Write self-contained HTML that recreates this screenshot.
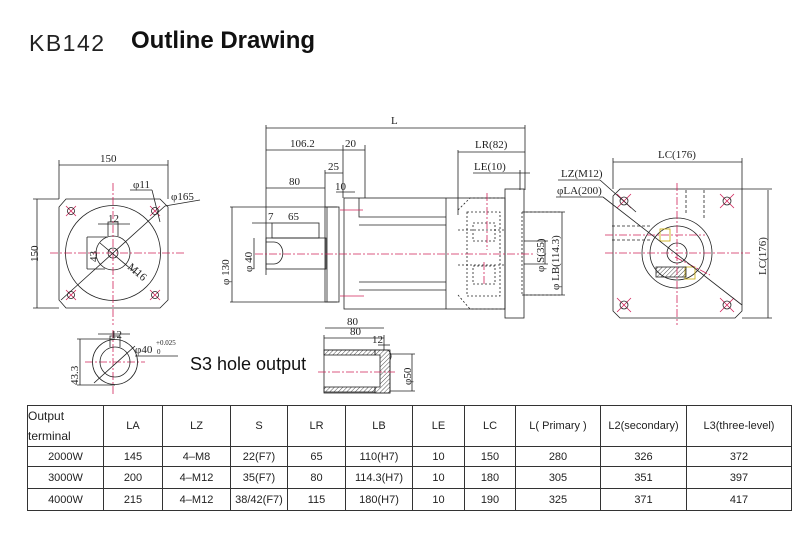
<!DOCTYPE html>
<html><head><meta charset="utf-8"><style>
body{margin:0;background:#fff;width:809px;height:539px;overflow:hidden;position:relative;font-family:"Liberation Sans",sans-serif}
.t{position:absolute;white-space:nowrap}
table{position:absolute;left:27px;top:405px;border-collapse:collapse;font-size:11px;color:#222}
td{border:1px solid #333;text-align:center;padding:0;height:19px}
</style></head><body>
<div class="t" style="left:29px;top:30px;font-size:23px;color:#222;letter-spacing:1.5px">KB142</div>
<div class="t" style="left:131px;top:27px;font-size:24px;color:#111;font-weight:bold">Outline Drawing</div>
<div class="t" style="left:190px;top:354px;font-size:18px;color:#111">S3 hole output</div>
<svg width="809" height="400" style="position:absolute;left:0;top:0" font-family="Liberation Serif,serif" font-size="11" fill="none" stroke="#222" stroke-width="0.8">
<defs><pattern id="h" width="3" height="3" patternUnits="userSpaceOnUse" patternTransform="rotate(45)"><line x1="0" y1="0" x2="0" y2="3" stroke="#222" stroke-width="0.8"/></pattern></defs>
<!-- left view -->
<path d="M66 199 H160 L168 207 V300 L160 308 H66 L59 300 V207 Z"/>
<circle cx="113" cy="253" r="47.5"/><circle cx="113" cy="253" r="17"/><circle cx="113" cy="253" r="5"/>
<path d="M108 236 V222 H118 V236"/>
<g stroke="#d0245a" stroke-dasharray="8 2 2 2"><line x1="50" y1="253" x2="185" y2="253"/><line x1="113" y1="183" x2="113" y2="325"/><line x1="113" y1="330" x2="113" y2="395"/><line x1="85" y1="362" x2="145" y2="362"/></g>
<g stroke="#d0245a"><path d="M66 206l10 10M76 206l-10 10M150 206l10 10M160 206l-10 10M66 290l10 10M76 290l-10 10M150 290l10 10M160 290l-10 10"/></g>
<circle cx="71" cy="211" r="3.5"/><circle cx="155" cy="211" r="3.5"/><circle cx="71" cy="295" r="3.5"/><circle cx="155" cy="295" r="3.5"/>
<line x1="59" y1="165" x2="168" y2="165"/><line x1="59" y1="160" x2="59" y2="199"/><line x1="168" y1="160" x2="168" y2="199"/>
<line x1="37" y1="199" x2="37" y2="308"/><line x1="33" y1="199" x2="59" y2="199"/><line x1="33" y1="308" x2="59" y2="308"/>
<line x1="87" y1="237" x2="87" y2="269"/><line x1="87" y1="237" x2="108" y2="237"/><line x1="87" y1="269" x2="105" y2="269"/>
<line x1="98" y1="224" x2="130" y2="224"/>
<line x1="61" y1="300" x2="165" y2="206"/><line x1="165" y1="206" x2="200" y2="200"/>
<line x1="130" y1="190" x2="152" y2="190"/><line x1="152" y1="190" x2="160" y2="222"/>
<line x1="100" y1="243" x2="138" y2="275"/>
<g fill="#222" stroke="none"><text x="100" y="162">150</text><text x="133" y="188">φ11</text><text x="171" y="200">φ165</text><text x="108" y="222">12</text>
<text transform="translate(38 262) rotate(-90)">150</text><text transform="translate(97 262) rotate(-90)">43</text><text transform="translate(127 268) rotate(40)">M16</text></g>
<!-- key shaft -->
<circle cx="115" cy="362" r="22.5"/><circle cx="115" cy="362" r="15"/><path d="M110 347 V336 H120 V347"/>
<line x1="98" y1="334" x2="130" y2="334"/><line x1="80" y1="339" x2="80" y2="385"/><line x1="77" y1="339" x2="115" y2="339"/><line x1="77" y1="385" x2="115" y2="385"/>
<line x1="94" y1="383" x2="135" y2="346"/><line x1="135" y1="356" x2="178" y2="356"/>
<g fill="#222" stroke="none"><text x="111" y="338">12</text><text x="135" y="353">φ40</text><text x="156" y="345" font-size="7">+0.025</text><text x="157" y="354" font-size="7">0</text><text transform="translate(78 385) rotate(-90)">43.3</text></g>
<!-- middle -->
<line x1="266" y1="128" x2="525" y2="128"/><line x1="266" y1="125" x2="266" y2="275"/><line x1="525" y1="125" x2="525" y2="190"/>
<line x1="266" y1="150" x2="365" y2="150"/><line x1="343" y1="145" x2="343" y2="198"/><line x1="365" y1="145" x2="365" y2="198"/>
<line x1="325" y1="173" x2="343" y2="173"/><line x1="325" y1="170" x2="325" y2="207"/>
<line x1="266" y1="188" x2="325" y2="188"/><line x1="336" y1="192" x2="355" y2="192"/>
<line x1="458" y1="152" x2="525" y2="152"/><line x1="458" y1="150" x2="458" y2="215"/><line x1="473" y1="173" x2="530" y2="173"/><line x1="520" y1="170" x2="520" y2="190"/>
<line x1="230" y1="207" x2="337" y2="207"/><line x1="230" y1="302" x2="337" y2="302"/><line x1="232" y1="207" x2="232" y2="302"/>
<rect x="325" y="207" width="14" height="95"/><line x1="327" y1="207" x2="327" y2="302"/>
<rect x="344" y="198" width="161" height="111"/><line x1="446" y1="198" x2="446" y2="309"/>
<path d="M359 198 V217 H446 M359 225 H446 M359 282 H446 M359 290 H446"/>
<rect x="505" y="189" width="19" height="129"/>
<rect x="266" y="238" width="60" height="31"/><rect x="272" y="223" width="47" height="15"/>
<line x1="252" y1="223" x2="272" y2="223"/><line x1="254" y1="238" x2="254" y2="269"/>
<path d="M266 242 h8 a8 10 0 0 1 0 22 h-8" />
<g stroke-dasharray="2 2"><path d="M458 210 L470 198 H505 M458 295 L470 309 H505 M467 212 H500 V296 H467 Z M522 212 H560 M522 295 H560 M522 212 V295 M458 230 H505 M458 265 H505"/><rect x="473" y="223" width="22" height="18"/><rect x="473" y="266" width="22" height="18"/></g>
<g stroke="#d0245a" stroke-dasharray="8 2 2 2"><line x1="255" y1="254" x2="535" y2="254"/><line x1="487" y1="193" x2="487" y2="250"/><line x1="484" y1="262" x2="484" y2="285"/></g>
<line x1="340" y1="210" x2="363" y2="210" stroke="#d0245a"/><line x1="340" y1="296" x2="364" y2="296" stroke="#d0245a"/>
<line x1="524" y1="241" x2="548" y2="241"/><line x1="524" y1="264" x2="548" y2="264"/><line x1="545" y1="241" x2="545" y2="264"/>
<line x1="524" y1="212" x2="565" y2="212"/><line x1="524" y1="295" x2="565" y2="295"/><line x1="562" y1="212" x2="562" y2="295"/>
<g fill="#222" stroke="none"><text x="391" y="124">L</text><text x="290" y="147">106.2</text><text x="345" y="147">20</text><text x="328" y="170">25</text><text x="289" y="185">80</text><text x="335" y="190">10</text>
<text x="475" y="148">LR(82)</text><text x="474" y="170">LE(10)</text><text x="268" y="220">7</text><text x="288" y="220">65</text>
<text transform="translate(229 285) rotate(-90)">φ 130</text><text transform="translate(252 272) rotate(-90)">φ 40</text>
<text transform="translate(544 272) rotate(-90)">φ S(35)</text><text transform="translate(559 290) rotate(-90)">φ LB(114.3)</text>
<text x="347" y="325">80</text></g>
<line x1="325" y1="328" x2="384" y2="328"/>
<!-- S3 -->
<rect x="324" y="350" width="51" height="5" fill="url(#h)"/><rect x="324" y="387" width="51" height="5" fill="url(#h)"/>
<path d="M375 350 H388 Q393 355 390 360 V393 H375 V387 H380 V355 H375Z" fill="url(#h)"/>
<rect x="324" y="350" width="66" height="43"/>
<line x1="324" y1="338" x2="384" y2="338"/><line x1="324" y1="335" x2="324" y2="350"/><line x1="384" y1="335" x2="384" y2="350"/>
<line x1="378" y1="345" x2="390" y2="345"/>
<line x1="390" y1="354" x2="415" y2="354"/><line x1="390" y1="391" x2="415" y2="391"/><line x1="412" y1="354" x2="412" y2="391"/>
<line x1="318" y1="372" x2="395" y2="372" stroke="#d0245a" stroke-dasharray="8 2 2 2"/>
<g fill="#222" stroke="none"><text x="350" y="335">80</text><text x="372" y="343">12</text><text transform="translate(411 385) rotate(-90)">φ50</text></g>
<!-- right view -->
<path d="M620 189 H742 V311 L735 318 H620 L613 311 V196 Z"/>
<circle cx="677" cy="253" r="35"/><circle cx="677" cy="253" r="27"/><circle cx="677" cy="253" r="10"/>
<g stroke-dasharray="3 2"><path d="M612 226 H650 M612 240 H650 M686 190 V215 M704 190 V220"/></g>
<rect x="660" y="229" width="10" height="12" stroke="#c8a800"/><rect x="685" y="267" width="10" height="12" stroke="#c8a800"/>
<rect x="656" y="267" width="30" height="10" fill="url(#h)"/>
<g stroke="#d0245a" stroke-dasharray="8 2 2 2"><line x1="605" y1="253" x2="750" y2="253"/><line x1="605" y1="235" x2="705" y2="235"/><line x1="677" y1="183" x2="677" y2="325"/><line x1="675" y1="257" x2="710" y2="275"/></g>
<g stroke="#d0245a"><path d="M617 194l14 14M631 194l-14 14M720 194l14 14M734 194l-14 14M617 298l14 14M631 298l-14 14M720 298l14 14M734 298l-14 14"/></g>
<circle cx="624" cy="201" r="4"/><circle cx="727" cy="201" r="4"/><circle cx="624" cy="305" r="4"/><circle cx="727" cy="305" r="4"/>
<line x1="613" y1="162" x2="742" y2="162"/><line x1="613" y1="158" x2="613" y2="189"/><line x1="742" y1="158" x2="742" y2="189"/>
<line x1="768" y1="190" x2="768" y2="318"/><line x1="742" y1="189" x2="772" y2="189"/><line x1="742" y1="318" x2="772" y2="318"/>
<line x1="558" y1="180" x2="600" y2="180"/><line x1="600" y1="180" x2="636" y2="212"/>
<line x1="556" y1="197" x2="603" y2="197"/><line x1="603" y1="197" x2="742" y2="305"/>
<g fill="#222" stroke="none"><text x="658" y="158">LC(176)</text><text x="561" y="177">LZ(M12)</text><text x="557" y="194">φLA(200)</text><text transform="translate(766 275) rotate(-90)">LC(176)</text></g>
</svg>
<table>
<colgroup><col style="width:76px"><col style="width:59px"><col style="width:68px"><col style="width:57px"><col style="width:58px"><col style="width:67px"><col style="width:52px"><col style="width:51px"><col style="width:85px"><col style="width:86px"><col style="width:105px"></colgroup>
<tr style="height:38px"><td style="text-align:left;font-size:12px;line-height:20px">Output<br>terminal</td><td>LA</td><td>LZ</td><td>S</td><td>LR</td><td>LB</td><td>LE</td><td>LC</td><td>L( Primary )</td><td>L2(secondary)</td><td>L3(three-level)</td></tr>
<tr><td>2000W</td><td>145</td><td>4–M8</td><td>22(F7)</td><td>65</td><td>110(H7)</td><td>10</td><td>150</td><td>280</td><td>326</td><td>372</td></tr>
<tr style="height:22px"><td>3000W</td><td>200</td><td>4–M12</td><td>35(F7)</td><td>80</td><td>114.3(H7)</td><td>10</td><td>180</td><td>305</td><td>351</td><td>397</td></tr>
<tr style="height:22px"><td>4000W</td><td>215</td><td>4–M12</td><td>38/42(F7)</td><td>115</td><td>180(H7)</td><td>10</td><td>190</td><td>325</td><td>371</td><td>417</td></tr>
</table>
</body></html>
